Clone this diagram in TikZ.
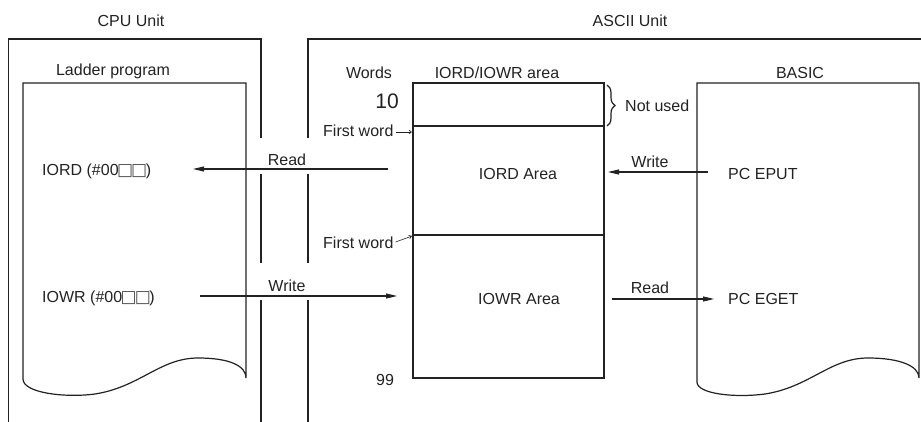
\documentclass[tikz,border=0pt]{standalone}
\usepackage{fontspec}
\setmainfont{Liberation Sans}
\newfontfamily\symfont{DejaVu Sans}
\usetikzlibrary{arrows.meta,decorations.pathreplacing}
\definecolor{ink}{HTML}{222222}
\newcommand{\boxpair}{{\symfont\fontsize{17}{20}\selectfont\color{ink!80}\kern-1.5pt □\kern-2pt□\kern-1.5pt}}
\begin{document}
\begin{tikzpicture}[x=1pt,y=-1pt,
  ln/.style={line width=1.2pt, draw=ink},
  arr/.style={ln, -{Triangle[length=11pt,width=5pt]}},
  small/.style={line width=0.6pt, draw=ink, -{Straight Barb[length=2.5pt,width=3.5pt]}},
  lbl/.style={font=\fontsize{16}{19}\selectfont, text=ink, inner sep=0pt, anchor=base}]
\useasboundingbox (0,0) rectangle (921,422);
% CPU Unit frame
\draw[ln] (8.5,422) -- (8.5,39) -- (261,39) -- (261,138);
\draw[ln] (261,174) -- (261,263);
\draw[ln] (261,300) -- (261,422);
% ASCII Unit frame
\draw[ln] (921,39) -- (308,39) -- (308,138);
\draw[ln] (308,174) -- (308,263);
\draw[ln] (308,300) -- (308,422);
% Ladder program document
\draw[ln] (246,378) -- (246,83) -- (23,83) -- (23,379)
  .. controls (23,393) and (65,398) .. (95,394)
  .. controls (140,387) and (160,358) .. (198,358)
  .. controls (230,358) and (246,366) .. (246,378);
% BASIC document
\draw[ln] (919,378) -- (919,83) -- (697,83) -- (697,382)
  .. controls (697,394) and (735,398) .. (765,394)
  .. controls (810,387) and (830,358) .. (868,358)
  .. controls (900,358) and (919,366) .. (919,378);
% memory table
\draw[ln] (413,83) rectangle (604,378);
\draw[ln] (413,126) -- (604,126);
\draw[ln] (413,235) -- (604,235);
\draw[ln, decorate, decoration={brace, amplitude=8pt}] (607,85) -- (607,126);
% labels
\node[lbl] (cpu) at (131,27) {CPU Unit};
\node[lbl] (ascii) at (630,27) {ASCII Unit};
\node[lbl] (ladder) at (113,76) {Ladder program};
\node[lbl] (words) at (369,79) {Words};
\node[lbl] (area) at (497,79) {IORD/IOWR area};
\node[lbl] (basic) at (800,79) {BASIC};
\node[lbl, font=\fontsize{21}{24}\selectfont] (ten) at (387,109) {10};
\node[lbl, anchor=base west] (fw1) at (323,137) {First word};
\node[lbl, anchor=base west] (nu) at (625,112) {Not used};
\node[lbl] (rdl) at (287,166) {Read};
\node[lbl, anchor=base west] (iord) at (42,176) {IORD (\#00\boxpair)};
\node[lbl] (wrr) at (650,168) {Write};
\node[lbl] (iordA) at (518,180) {IORD Area};
\node[lbl, anchor=base west] (eput) at (728,180) {PC EPUT};
\node[lbl, anchor=base west] (fw2) at (323,248) {First word};
\node[lbl] (wrl) at (287,291) {Write};
\node[lbl, anchor=base west] (iowr) at (42,302) {IOWR (\#00\boxpair)};
\node[lbl] (rdr) at (650,293) {Read};
\node[lbl] (iowrA) at (519,304) {IOWR Area};
\node[lbl, anchor=base west] (eget) at (728,304) {PC EGET};
\node[lbl] (nn) at (385,385) {99};
% connector end points
\coordinate (r1s) at (388,169); \coordinate (r1e) at (193,169);
\coordinate (w1s) at (200,296); \coordinate (w1e) at (397,296);
\coordinate (w2s) at (708,172); \coordinate (w2e) at (608,172);
\coordinate (r2s) at (612,299); \coordinate (r2e) at (714,299);
\coordinate (f1e) at (412,132); \coordinate (f2e) at (412,236);
% arrows
\draw[arr] (r1s) -- (r1e);
\draw[arr] (w1s) -- (w1e);
\draw[arr] (w2s) -- (w2e);
\draw[arr] (r2s) -- (r2e);
\draw[small] ([xshift=2pt,yshift=5pt]fw1.base east) -- (f1e);
\draw[small] ([xshift=2pt,yshift=6pt]fw2.base east) -- (f2e);
\end{tikzpicture}
\end{document}
